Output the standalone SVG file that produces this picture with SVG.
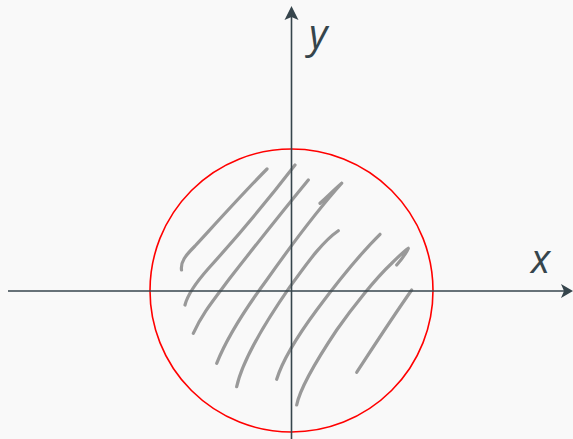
<svg xmlns="http://www.w3.org/2000/svg" width="573" height="439" viewBox="0 0 573 439">
<style>
.axis{stroke:#36454c;stroke-width:1.6;fill:none}
.head{fill:#36454c}
.hatch{stroke:#999999;stroke-width:3.2;fill:none;stroke-linecap:round;stroke-linejoin:round}
.lbl{font-family:"Open Sans","DejaVu Sans",sans-serif;font-style:italic;font-size:40px;fill:#36454c}
</style>
<rect width="573" height="439" fill="#f9f9f9"/>
<g id="hatching">
<path class="hatch" d="M181.5,270 C180.5,262 185,256 195,246 C218,221 245,191 267,169"/>
<path class="hatch" d="M185,305 C187,297 193,286 208,269 C236,238 268,200 295,165"/>
<path class="hatch" d="M193.3,333.3 C202,314 212,302 230,278 C255,246 282,212 308.3,180"/>
<path class="hatch" d="M216.7,363.3 C226,340 246,308 266.7,280 C290,247 315,213 341.7,183.3 M320,203.3 C328,196 334,190 341.7,183.3"/>
<path class="hatch" d="M236.7,386.7 C242,362 260,330 290,286.7 C308,262 322,242 338.3,230.7"/>
<path class="hatch" d="M276.7,379.3 C282,362 296,338 316.7,310 C336,284 358,256 380,234.3"/>
<path class="hatch" d="M296.7,405 C300,388 318,358 336.7,330 C352,308 376,278 391,264 C398,257 404,251 408.3,248.3 C406,254 401,260 396.7,265"/>
<path class="hatch" d="M356.7,372.3 C370,352 392,318 411.7,290"/>
</g>
<g id="circle">
<circle cx="291.5" cy="290.5" r="141.5" fill="none" stroke="#ff0000" stroke-width="1.6"/>
</g>
<g id="axes">
<line class="axis" x1="8" y1="291" x2="566" y2="291"/>
<path class="head" d="M573,291 L561,284 L564,291 L561,298 Z"/>
<line class="axis" x1="291.5" y1="439" x2="291.5" y2="13"/>
<path class="head" d="M291.5,6 L284.5,20 L291.5,17 L298.5,20 Z"/>
<text class="lbl" x="309" y="48">y</text>
<text class="lbl" x="531" y="273">x</text>
</g>
</svg>
